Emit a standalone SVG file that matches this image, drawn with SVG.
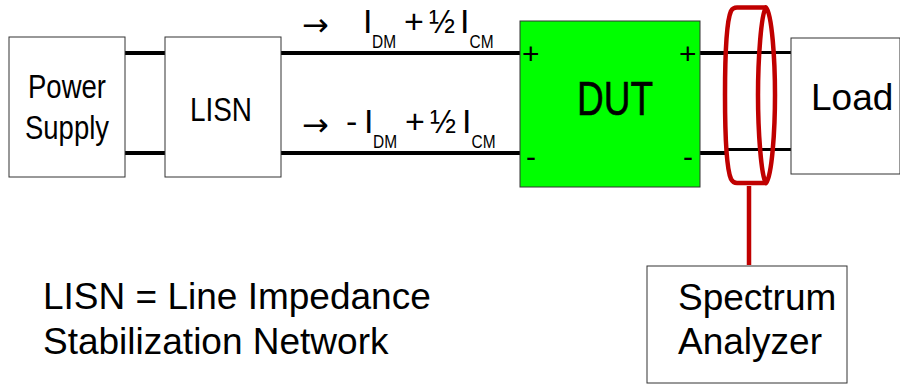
<svg xmlns="http://www.w3.org/2000/svg" width="900" height="384" viewBox="0 0 900 384">
<style>
text{font-family:"Liberation Sans",Arial,sans-serif;fill:#000}
.b{fill:#fff;stroke:#333;stroke-width:1}
.w{stroke:#000;stroke-width:4;fill:none}
.t{stroke:#000;stroke-width:3;fill:none}
.r{stroke:#c00000;stroke-width:4.5;fill:none;stroke-linejoin:round}
.n{font-size:34px}
.s{font-size:18px}
.a{font-family:"DejaVu Sans",sans-serif;font-size:32px}
.p{font-size:30px}
.l{font-size:37px}
</style>
<rect width="900" height="384" fill="#fff"/>
<g id="connectors">
<path class="w" d="M125 53H165M125 153H165M281 53H520M281 153H520M700 53H725M700 153H725"/>
<path class="t" d="M725 52.500H792M725 149.500H792"/>
<path class="r" d="M749 186V265" stroke-width="4"/>
</g>
<g id="power"><rect class="b" x="9" y="37" width="116" height="140"/><text x="28" y="98" class="n" textLength="78" lengthAdjust="spacingAndGlyphs">Power</text><text x="25" y="139" class="n" textLength="84" lengthAdjust="spacingAndGlyphs">Supply</text></g>
<g id="lisn"><rect class="b" x="165" y="37" width="116" height="140"/><text x="190" y="121" class="n" textLength="62" lengthAdjust="spacingAndGlyphs">LISN</text></g>
<g id="dut"><rect x="520" y="21" width="180" height="166" fill="#0f0" stroke="#333"/><text x="577" y="115" font-size="49" stroke="#000" stroke-width=".6" textLength="76" lengthAdjust="spacingAndGlyphs">DUT</text><text x="522" y="64" class="p">+</text><text x="679" y="64" class="p">+</text><text x="526" y="167" class="p">-</text><text x="683" y="167" class="p">-</text></g>
<g id="load"><rect class="b" x="791" y="38" width="109" height="136"/><text x="811" y="110" class="l">Load</text></g>
<g id="analyzer"><rect class="b" x="647" y="266" width="200" height="117"/><text x="678" y="310" class="l">Spectrum</text><text x="678" y="354" class="l">Analyzer</text></g>
<g id="probe"><path class="r" d="M766 7.500H737Q733 7.500 731 11C727 20 725 50 725 95C725 140 727 170 731 179Q733 183 737 183H766"/><path class="r" d="M766 7.500C772 14 775 60 775 95C775 130 772 176 766 183C761 176 758 130 758 95C758 60 761 14 766 7.500Z"/></g>
<g id="labels">
<text x="302" y="36" class="a">→</text><text x="363" y="33" class="n">I</text><text x="372" y="48" class="s" textLength="24" lengthAdjust="spacingAndGlyphs">DM</text><text x="404" y="33" class="n">+</text><text x="429" y="33" class="n" textLength="26" lengthAdjust="spacingAndGlyphs">½</text><text x="460" y="33" class="n">I</text><text x="469.500" y="48" class="s" textLength="24" lengthAdjust="spacingAndGlyphs">CM</text>
<text x="302" y="136" class="a">→</text><text x="346" y="133" class="n">-</text><text x="364" y="133" class="n">I</text><text x="373" y="148" class="s" textLength="24" lengthAdjust="spacingAndGlyphs">DM</text><text x="405" y="133" class="n">+</text><text x="430" y="133" class="n" textLength="26" lengthAdjust="spacingAndGlyphs">½</text><text x="462" y="133" class="n">I</text><text x="471.500" y="148" class="s" textLength="24" lengthAdjust="spacingAndGlyphs">CM</text>
<text x="43" y="309" class="l">LISN = Line Impedance</text><text x="43" y="354" class="l">Stabilization Network</text>
</g>
</svg>
